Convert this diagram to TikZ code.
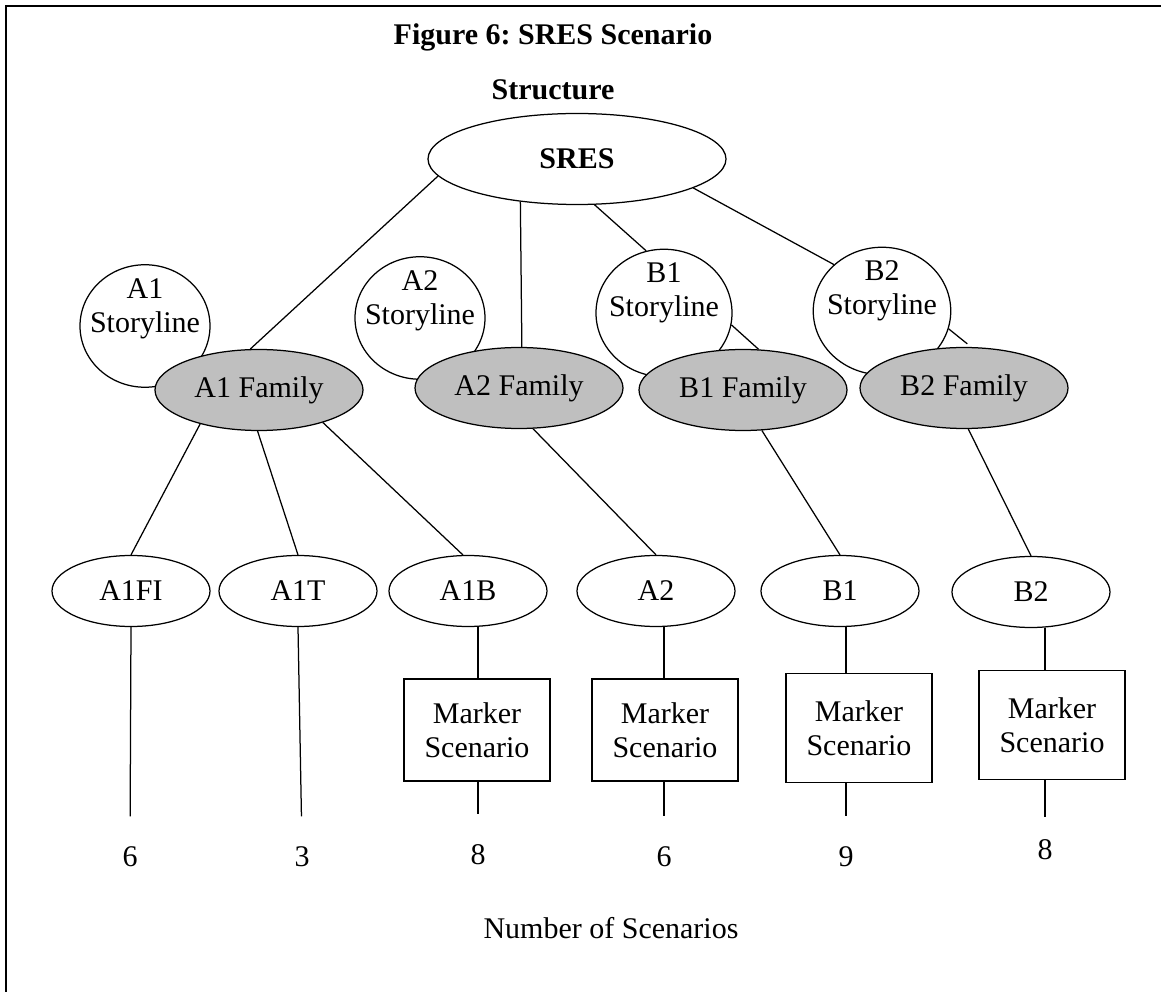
\documentclass[tikz,border=0pt]{standalone}
\usepackage{fontspec}
\setmainfont{Liberation Serif}
\usepackage{tikz}
\definecolor{familygrey}{rgb}{0.75, 0.75, 0.75}
\usetikzlibrary{shapes.geometric}
\frenchspacing

\begin{document}
\begin{tikzpicture}[x=0.4pt, y=-0.4pt,
	every node/.style={font=\fontsize{12}{13.5}\selectfont},
	story/.style={draw, ellipse, line width=0.5pt, fill=white, minimum width=52pt, minimum height=49pt, inner sep=0pt},
	family/.style={draw, ellipse, line width=0.5pt, fill=familygrey, minimum width=83.2pt, minimum height=32.4pt, inner sep=0pt},
	scen/.style={draw, ellipse, line width=0.5pt, minimum width=63.2pt, minimum height=28.4pt, inner sep=0pt},
	marker/.style={draw, rectangle, line width=0.7pt, minimum width=58.4pt, minimum height=40.8pt, align=center, inner sep=0pt},
	count/.style={inner sep=0pt},
	link/.style={line width=0.5pt},
	tail/.style={line width=0.5pt, shorten >=12pt}]
	\useasboundingbox (0,0) rectangle (1161,992);
	\draw[line width=0.8pt] (6,992) -- (6,6) -- (1161,6);
	
	\node[font=\fontsize{12}{14}\selectfont\bfseries, align=center] (title) at (553,62) {Figure 6: SRES Scenario\\[8pt]Structure};
	\node[draw, ellipse, line width=0.5pt, minimum width=119.2pt, minimum height=36.4pt, font=\fontsize{12}{14}\selectfont\bfseries] (sres) at (577,159) {SRES};
	
	% storylines sit behind the families
	\node[story, label={[align=center, yshift=7pt]center:A1\\Storyline}] (a1s) at (145,326) {};
	\node[story, label={[align=center, yshift=7pt]center:A2\\Storyline}] (a2s) at (420,318) {};
	\node[story, minimum width=54.4pt, minimum height=51pt, label={[align=center, yshift=8pt]center:B1\\Storyline}] (b1s) at (664,313) {};
	\node[story, minimum width=55pt, minimum height=51pt, label={[align=center, yshift=8pt]center:B2\\Storyline}] (b2s) at (882,311) {};
	
	\node[family] (a1f) at (259,390) {A1 Family};
	\node[family] (a2f) at (519,388) {A2 Family};
	\node[family] (b1f) at (743,390) {B1 Family};
	\node[family] (b2f) at (964,388) {B2 Family};
	
	\node[scen] (a1fi) at (131,591) {A1FI};
	\node[scen] (a1t) at (298,591) {A1T};
	\node[scen] (a1b) at (468,591) {A1B};
	\node[scen] (a2) at (656,591) {A2};
	\node[scen] (b1) at (840,591) {B1};
	\node[scen] (b2) at (1031,592) {B2};
	
	\node[marker] (mka1b) at (477,730) {Marker\\Scenario};
	\node[marker] (mka2) at (665,730) {Marker\\Scenario};
	\node[marker, minimum height=43.6pt] (mkb1) at (859,728) {Marker\\Scenario};
	\node[marker, minimum height=43.6pt] (mkb2) at (1052,725) {Marker\\Scenario};
	
	\node[count] (na1fi) at (130,857) {6};
	\node[count] (na1t) at (302,857) {3};
	\node[count] (na1b) at (478,855) {8};
	\node[count] (na2) at (664,857) {6};
	\node[count] (nb1) at (846,857) {9};
	\node[count] (nb2) at (1045,850) {8};
	
	\node (total) at (611,928) {Number of Scenarios};
	
	\draw[link] (sres.187) -- (a1f.102);
	\draw[link] (sres.217) -- (a2f.86);
	\draw[link] (sres.291) -- (b1s.106);
	\draw[link] (sres.346) -- (b2s.136);
	
	\draw[link] (b1s.350) -- (b1f.69);
	\draw[link, shorten >=2pt] (b2s.345) -- (b2f.80);
	
	\draw[link] (a1f.210) -- (a1fi.north);
	\draw[link] (a1f.268) -- (a1t.north);
	\draw[link] (a1f.333) -- (a1b.98);
	\draw[link] (a2f.289) -- (a2.north);
	\draw[link] (b1f.295) -- (b1.north);
	\draw[link] (b2f.276) -- (b2.north);
	
	\draw[link] (na1b.north |- a1b.south) -- (na1b.north |- mka1b.north);
	\draw[link] (na2.north |- a2.south) -- (na2.north |- mka2.north);
	\draw[link] (nb1.north |- b1.south) -- (nb1.north |- mkb1.north);
	\draw[link] (nb2.north |- b2.south) -- (nb2.north |- mkb2.north);
	
	\draw[tail] (a1fi.south) -- (na1fi.north);
	\draw[tail] (a1t.south) -- (na1t.north);
	\draw[tail] (na1b.north |- mka1b.south) -- (na1b.north);
	\draw[tail] (na2.north |- mka2.south) -- (na2.north);
	\draw[tail] (nb1.north |- mkb1.south) -- (nb1.north);
	\draw[tail, shorten >=9pt] (nb2.north |- mkb2.south) -- (nb2.north);
	
\end{tikzpicture}
\end{document}
